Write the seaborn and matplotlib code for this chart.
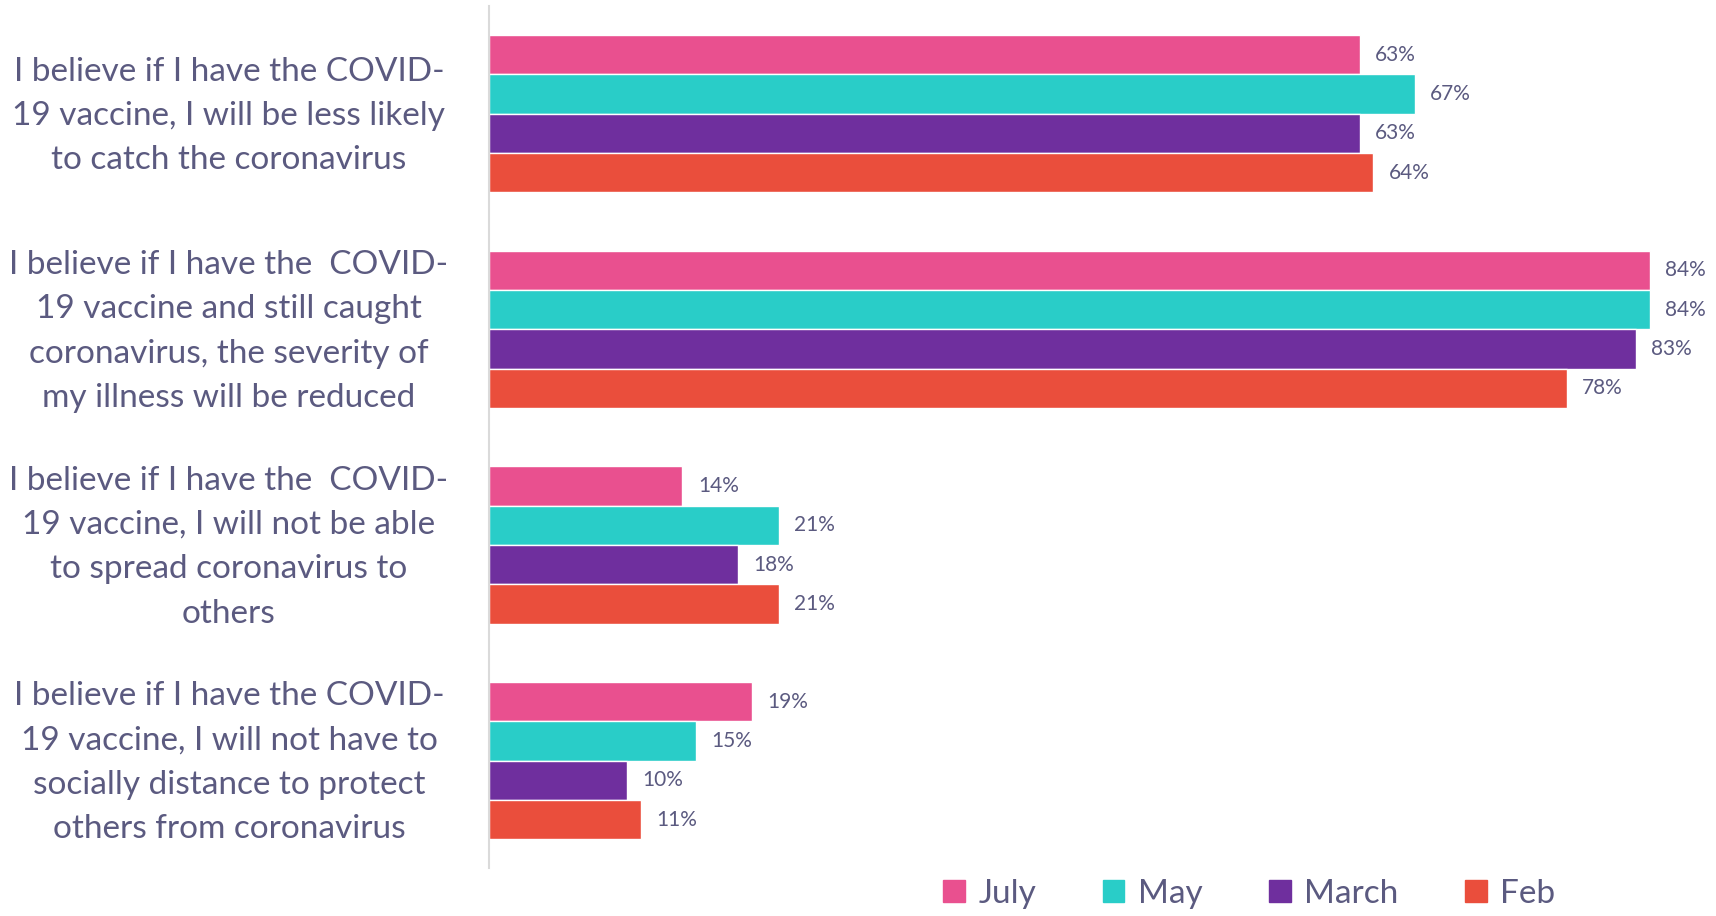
import pandas as pd
import matplotlib.pyplot as plt
import seaborn as sns

statements = [
    'I believe if I have the COVID-\n19 vaccine, I will be less likely\nto catch the coronavirus',
    'I believe if I have the  COVID-\n19 vaccine and still caught\ncoronavirus, the severity of\nmy illness will be reduced',
    'I believe if I have the  COVID-\n19 vaccine, I will not be able\nto spread coronavirus to\nothers',
    'I believe if I have the COVID-\n19 vaccine, I will not have to\nsocially distance to protect\nothers from coronavirus',
]
months = ['July', 'May', 'March', 'Feb']
july = [63, 84, 14, 19]
may = [67, 84, 21, 15]
march = [63, 83, 18, 10]
feb = [64, 78, 21, 11]
colors = ['#E9508F', '#29CDC8', '#6F2F9E', '#EA4E3C']

rows = []
for m, vals in zip(months, [july, may, march, feb]):
    for s, v in zip(statements, vals):
        rows.append({'statement': s, 'month': m, 'value': v})
df = pd.DataFrame(rows)

sns.set_style('white')
plt.rcParams['font.family'] = ['Lato', 'DejaVu Sans']
text_col = '#5B5A80'

fig = plt.figure(figsize=(17.16, 9.16), dpi=100)
ax = fig.add_axes([0.285, 0.052, 0.715, 0.9415])

sns.barplot(data=df, y='statement', x='value', hue='month', hue_order=months,
            order=statements, orient='h', palette=colors, width=0.73,
            saturation=1, ax=ax)

for cont, vals in zip(ax.containers, [july, may, march, feb]):
    ax.bar_label(cont, labels=[f'{v}%' for v in vals], padding=11,
                 fontsize=15, color=text_col)

ax.set_xlim(0, 88.8)
ax.set_ylim(3.5, -0.5)
ax.set_xlabel('')
ax.set_ylabel('')
ax.set_xticks([])
for sp in ['top', 'right', 'bottom']:
    ax.spines[sp].set_visible(False)
ax.spines['left'].set_color('#DADADA')
ax.spines['left'].set_linewidth(1.5)

# category labels, centred in the left margin
ax.set_yticklabels([])
ax.tick_params(axis='y', length=0)
for i, s in enumerate(statements):
    ax.text(-0.212, i + 0.01, s, transform=ax.get_yaxis_transform(),
            ha='center', va='center', multialignment='center',
            fontsize=24, color=text_col, linespacing=1.6)

ax.legend_.remove()
handles = [plt.Rectangle((0, 0), 1, 1, color=c) for c in colors]
fig.legend(handles, months, loc='center', bbox_to_anchor=(0.728, 0.024),
           ncol=4, frameon=False, fontsize=24, handlelength=0.65,
           handleheight=0.65, handletextpad=0.4, columnspacing=2.0,
           labelcolor=text_col)

fig.savefig('out.png', dpi=100)
